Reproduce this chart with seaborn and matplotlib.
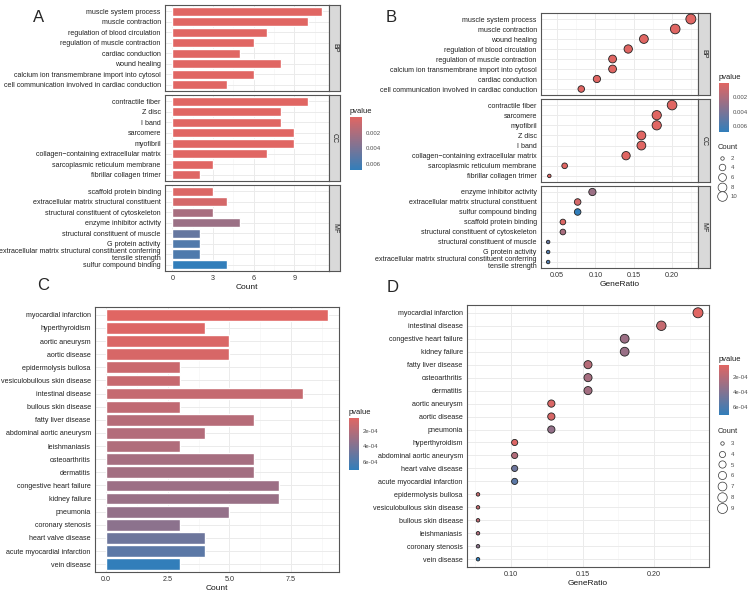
import numpy as np
import pandas as pd
import matplotlib
matplotlib.use('Agg')
import matplotlib.pyplot as plt
import seaborn as sns
from matplotlib.colors import LinearSegmentedColormap, Normalize
from matplotlib.cm import ScalarMappable
from matplotlib.lines import Line2D

# ---- GO enrichment (panels A, B) ----
go_ont = ['BP'] * 8 + ['CC'] * 8 + ['MF'] * 8
go_terms = [
    'muscle system process', 'muscle contraction', 'regulation of blood circulation',
    'regulation of muscle contraction', 'cardiac conduction', 'wound healing',
    'calcium ion transmembrane import into cytosol',
    'cell communication involved in cardiac conduction',
    'contractile fiber', 'Z disc', 'I band', 'sarcomere', 'myofibril',
    'collagen\u2212containing extracellular matrix', 'sarcoplasmic reticulum membrane',
    'fibrillar collagen trimer',
    'scaffold protein binding', 'extracellular matrix structural constituent',
    'structural constituent of cytoskeleton', 'enzyme inhibitor activity',
    'structural constituent of muscle', 'G protein activity',
    'extracellular matrix structural constituent conferring\ntensile strength',
    'sulfur compound binding',
]
go_count = [11, 10, 7, 6, 5, 8, 6, 4,
            10, 8, 8, 9, 9, 7, 3, 2,
            3, 4, 3, 5, 2, 2, 2, 4]
go_pvalue = [1e-10, 5e-9, 2e-8, 1e-7, 5e-7, 1e-6, 5e-6, 2e-5,
             2e-9, 1e-8, 3e-8, 8e-8, 2e-7, 1e-6, 2e-5, 1e-4,
             2e-4, 5e-4, 0.0022, 0.0027, 0.0048, 0.0056, 0.0057, 0.0068]
go_total = {'BP': 49, 'CC': 50, 'MF': 52}   # GeneRatio denominators

# ---- DO enrichment (panels C, D) ----
do_terms = [
    'myocardial infarction', 'hyperthyroidism', 'aortic aneurysm', 'aortic disease',
    'epidermolysis bullosa', 'vesiculobullous skin disease', 'intestinal disease',
    'bullous skin disease', 'fatty liver disease', 'abdominal aortic aneurysm',
    'leishmaniasis', 'osteoarthritis', 'dermatitis', 'congestive heart failure',
    'kidney failure', 'pneumonia', 'coronary stenosis', 'heart valve disease',
    'acute myocardial infarction', 'vein disease',
]
do_count = [9, 4, 5, 5, 3, 3, 8, 3, 6, 4, 3, 6, 6, 7, 7, 5, 3, 4, 4, 3]
do_pvalue = [3.5e-5, 5e-5, 6e-5, 7e-5, 1.2e-4, 1.3e-4, 1.4e-4, 1.6e-4, 2.0e-4, 2.1e-4,
             2.2e-4, 2.6e-4, 2.7e-4, 3.0e-4, 3.1e-4, 3.3e-4, 3.6e-4, 4.8e-4, 5.5e-4, 7.1e-4]
do_total = 39

go = pd.DataFrame({'ONTOLOGY': go_ont, 'Description': go_terms,
                   'Count': go_count, 'pvalue': go_pvalue})
go['GeneRatio'] = go['Count'] / go['ONTOLOGY'].map(go_total)
do = pd.DataFrame({'Description': do_terms, 'Count': do_count, 'pvalue': do_pvalue})
do['GeneRatio'] = do['Count'] / do_total

W, H = 750, 592
sns.set_style('white')
plt.rcParams['font.family'] = ['Liberation Sans', 'DejaVu Sans']
fig = plt.figure(figsize=(W / 100, H / 100), dpi=100)

cmap = LinearSegmentedColormap.from_list('pv', ['#E06663', '#327EBA'])
GRID = '#EBEBEB'
BORDER = '#555555'
TXT = '#4D4D4D'
YLAB = 5.1     # category label size
XLAB = 5.2     # x tick label size
TITLE = 6.0    # axis title size


def px_axes(x0, y0, x1, y1):
    return fig.add_axes([x0 / W, 1 - y1 / H, (x1 - x0) / W, (y1 - y0) / H])


def bw(ax):
    ax.set_facecolor('white')
    for s in ax.spines.values():
        s.set_color(BORDER)
        s.set_linewidth(0.8)
    ax.set_axisbelow(True)
    ax.grid(True, which='major', color=GRID, lw=0.7)
    ax.grid(True, which='minor', axis='x', color='#F4F4F4', lw=0.4)
    ax.tick_params(which='major', length=2, width=0.5, color='#333333',
                   labelsize=YLAB, labelcolor='#222222', pad=1)
    ax.tick_params(axis='x', labelsize=XLAB, labelcolor='#333333')
    ax.tick_params(which='minor', length=0)
    ax.set_xlabel('')
    ax.set_ylabel('')
    for t in ax.get_yticklabels():
        t.set_linespacing(0.95)


def strip(x0, y0, x1, y1, label):
    sx = px_axes(x0, y0, x1, y1)
    sx.set_facecolor('#D9D9D9')
    sx.set_xticks([])
    sx.set_yticks([])
    for s in sx.spines.values():
        s.set_color(BORDER)
        s.set_linewidth(0.8)
    sx.text(0.5, 0.5, label, rotation=-90, ha='center', va='center',
            fontsize=5, color='#1A1A1A', transform=sx.transAxes)


def diam_sizes(counts, cmin, cmax):
    # point area (pt^2) ~ ggplot area scale
    d_px = 3.5 + 6.5 * np.sqrt((np.asarray(counts) - cmin) / (cmax - cmin))
    return (d_px * 0.72) ** 2


def colorbar(x0, y0, x1, y1, norm, ticks, labels):
    cax = px_axes(x0, y0, x1, y1)
    cb = fig.colorbar(ScalarMappable(norm=norm, cmap=cmap), cax=cax)
    cb.outline.set_visible(False)
    cax.invert_yaxis()
    cb.set_ticks(ticks)
    cb.set_ticklabels(labels)
    cax.tick_params(length=2, width=0.6, color='white', direction='in',
                    labelsize=4.3, labelcolor=TXT, pad=2.5, left=True)
    cax.set_title('pvalue', fontsize=5.4, loc='left', pad=3, color='#1A1A1A')


def size_legend(x, y, counts, cmin, cmax, spacing):
    handles = [Line2D([], [], marker='o', ls='', mfc='white', mec='#333333', mew=0.5,
                      markersize=np.sqrt(diam_sizes([c], cmin, cmax)[0]), label=str(c))
               for c in counts]
    leg = fig.legend(handles=handles, title='Count', loc='upper left',
                     bbox_to_anchor=(x / W, 1 - y / H), frameon=False, fontsize=4.3,
                     title_fontsize=5.4, labelspacing=spacing, handletextpad=0.7,
                     borderpad=0, borderaxespad=0, handlelength=1.4)
    leg._legend_box.align = 'left'
    for t in leg.get_texts():
        t.set_color(TXT)


# ---------------- Panel A ----------------
go_norm = Normalize(0, 0.0068)
pal_go = {d: cmap(go_norm(p)) for d, p in zip(go['Description'], go['pvalue'])}
a_rows = {'BP': (5, 91), 'CC': (95, 181), 'MF': (185, 271)}
for ont, (y0, y1) in a_rows.items():
    sub = go[go['ONTOLOGY'] == ont]
    order = list(sub['Description'])
    ax = px_axes(165, y0, 329, y1)
    sns.barplot(data=sub, x='Count', y='Description', hue='Description', order=order,
                hue_order=order, palette=pal_go, legend=False, dodge=False, width=0.9,
                saturation=1, ax=ax)
    bw(ax)
    ax.set_xlim(-0.55, 11.55)
    ax.set_ylim(len(order) - 0.4, -0.6)
    ax.set_xticks([0, 3, 6, 9])
    ax.set_xticks([1.5, 4.5, 7.5, 10.5], minor=True)
    if ont != 'MF':
        ax.tick_params(axis='x', labelbottom=False, bottom=False)
    else:
        ax.set_xlabel('Count', fontsize=TITLE, labelpad=1, color='#1A1A1A')
    strip(329, y0, 340, y1, ont)
colorbar(350, 117, 362, 170, go_norm, [0.002, 0.004, 0.006], ['0.002', '0.004', '0.006'])

# ---------------- Panel B ----------------
sizes_go = dict(zip(sorted(set(go_count)),
                    diam_sizes(sorted(set(go_count)), min(go_count), max(go_count))))
b_rows = {'BP': (13, 95), 'CC': (99, 182), 'MF': (186, 268)}
xr = go['GeneRatio'].max() - go['GeneRatio'].min()
b_xlim = (go['GeneRatio'].min() - 0.05 * xr, go['GeneRatio'].max() + 0.05 * xr)
for ont, (y0, y1) in b_rows.items():
    sub = go[go['ONTOLOGY'] == ont].sort_values('GeneRatio', ascending=False, kind='stable')
    ax = px_axes(541, y0, 698, y1)
    sns.scatterplot(data=sub, x='GeneRatio', y='Description', hue='Description',
                    palette=pal_go, size='Count', sizes=sizes_go, edgecolor='#222222',
                    linewidth=0.6, legend=False, ax=ax, zorder=3)
    bw(ax)
    ax.set_xlim(*b_xlim)
    ax.set_ylim(len(sub) - 0.4, -0.6)
    ax.set_xticks([0.05, 0.10, 0.15, 0.20])
    ax.set_xticks([0.075, 0.125, 0.175, 0.225], minor=True)
    if ont != 'MF':
        ax.tick_params(axis='x', labelbottom=False, bottom=False)
    else:
        ax.set_xticklabels(['0.05', '0.10', '0.15', '0.20'])
        ax.set_xlabel('GeneRatio', fontsize=TITLE, labelpad=1, color='#1A1A1A')
    strip(698, y0, 710, y1, ont)
colorbar(719, 83, 729, 132, go_norm, [0.002, 0.004, 0.006], ['0.002', '0.004', '0.006'])
size_legend(718, 144, [2, 4, 6, 8, 10], min(go_count), max(go_count), 0.75)

# ---------------- Panel C ----------------
do_norm = Normalize(min(do_pvalue), max(do_pvalue))
pal_do = {d: cmap(do_norm(p)) for d, p in zip(do['Description'], do['pvalue'])}
ax = px_axes(95, 307, 339, 572)
sns.barplot(data=do, x='Count', y='Description', hue='Description', order=do_terms,
            hue_order=do_terms, palette=pal_do, legend=False, dodge=False, width=0.9,
            saturation=1, ax=ax)
bw(ax)
ax.set_xlim(-0.45, 9.45)
ax.set_ylim(len(do_terms) - 0.4, -0.6)
ax.set_xticks([0, 2.5, 5, 7.5])
ax.set_xticklabels(['0.0', '2.5', '5.0', '7.5'])
ax.set_xticks([1.25, 3.75, 6.25, 8.75], minor=True)
ax.set_xlabel('Count', fontsize=TITLE, labelpad=1, color='#1A1A1A')
colorbar(349, 418, 359, 470, do_norm, [2e-4, 4e-4, 6e-4], ['2e-04', '4e-04', '6e-04'])

# ---------------- Panel D ----------------
sizes_do = dict(zip(sorted(set(do_count)),
                    diam_sizes(sorted(set(do_count)), min(do_count), max(do_count))))
dd = do.sort_values('GeneRatio', ascending=False, kind='stable')
ax = px_axes(467, 305, 709, 567)
sns.scatterplot(data=dd, x='GeneRatio', y='Description', hue='Description',
                palette=pal_do, size='Count', sizes=sizes_do, edgecolor='#222222',
                linewidth=0.6, legend=False, ax=ax, zorder=3)
bw(ax)
xr = dd['GeneRatio'].max() - dd['GeneRatio'].min()
ax.set_xlim(dd['GeneRatio'].min() - 0.05 * xr, dd['GeneRatio'].max() + 0.05 * xr)
ax.set_ylim(len(dd) - 0.4, -0.6)
ax.set_xticks([0.10, 0.15, 0.20])
ax.set_xticklabels(['0.10', '0.15', '0.20'])
ax.set_xticks([0.075, 0.125, 0.175, 0.225], minor=True)
ax.set_xlabel('GeneRatio', fontsize=TITLE, labelpad=1, color='#1A1A1A')
colorbar(719, 365, 729, 415, do_norm, [2e-4, 4e-4, 6e-4], ['2e-04', '4e-04', '6e-04'])
size_legend(718, 428, [3, 4, 5, 6, 7, 8, 9], min(do_count), max(do_count), 0.95)

# panel letters
for lab, x, y in [('A', 39, 17), ('B', 391, 17), ('C', 43, 286), ('D', 393, 287)]:
    fig.text(x / W, 1 - y / H, lab, fontsize=12, ha='center', va='center')

fig.savefig('out.png', dpi=100)
